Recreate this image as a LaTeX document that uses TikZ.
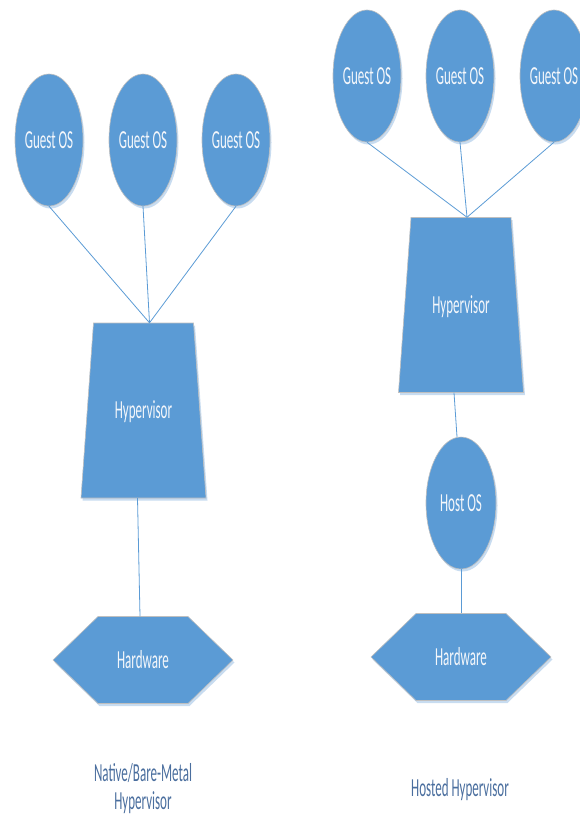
\documentclass[tikz,border=0pt]{standalone}
\usepackage{fontspec}
\newfontfamily\cf[FakeStretch=0.5]{Carlito}
\usetikzlibrary{shapes.geometric}
\definecolor{boxblue}{HTML}{5B9BD5}
\definecolor{edgegray}{HTML}{BFBFBF}
\definecolor{capblue}{HTML}{4A6E9E}
\definecolor{shadowblue}{HTML}{C8DCF0}
\definecolor{txtwhite}{HTML}{F4F7FB}
\newcommand\shadowed[1]{%
  \fill[shadowblue,shift={(1.5,2.5)}] #1;
  \filldraw[fill=boxblue,draw=edgegray,line width=0.6pt] #1;}
\newcommand\trapshape[2]{\shadowed{[shift={(#1,#2)}] (-50,-87.5) -- (50,-87.5) -- (62.5,87.5) -- (-62.5,87.5) -- cycle}}
\newcommand\hexshape[2]{\shadowed{[shift={(#1,#2)}] (-90,0) -- (-45,-43.5) -- (45,-43.5) -- (90,0) -- (45,43.5) -- (-45,43.5) -- cycle}}
\newcommand\ellshape[4]{\shadowed{(#1,#2) ellipse [x radius=#3pt, y radius=#4pt]}}
\begin{document}
\begin{tikzpicture}[x=1pt,y=-1pt,
  lbl/.style={text=txtwhite, font=\cf\fontsize{26}{28}\selectfont, inner sep=0pt},
  guest/.style={lbl, shape=ellipse, minimum width=68pt, minimum height=132pt},
  hyper/.style={lbl, shape=rectangle, minimum width=125pt, minimum height=175pt,
    text height=16.7pt, text depth=0pt},
  hw/.style={lbl, shape=rectangle, minimum width=180pt, minimum height=87pt},
  link/.style={draw=boxblue, line width=0.8pt},
  caption/.style={text=capblue, font=\cf\fontsize{26}{28}\selectfont, align=center, inner sep=0pt}]
\path[use as bounding box] (0,0) rectangle (579,816);

% shapes
\ellshape{49}{140}{34}{66}
\ellshape{143}{140}{34}{66}
\ellshape{236}{140}{34}{66}
\trapshape{143.5}{410.5}
\hexshape{143}{660}
\ellshape{367}{76}{34}{66}
\ellshape{460}{76}{34}{66}
\ellshape{554}{76}{34}{66}
\trapshape{461}{305}
\ellshape{461}{503}{35}{66}
\hexshape{461}{657}

% Native / bare-metal
\node[guest] (gl1) at (49,140) {Guest OS};
\node[guest] (gl2) at (143,140) {Guest OS};
\node[guest] (gl3) at (236,140) {Guest OS};
\node[hyper] (hl) at (143.5,410.5) {Hypervisor};
\node[hw] (wl) at (143,660) {Hardware};
\node[caption] (cl) at (143,789) {Native/Bare-Metal\\Hypervisor};

% Hosted
\node[guest] (gr1) at (367,76) {Guest OS};
\node[guest] (gr2) at (460,76) {Guest OS};
\node[guest] (gr3) at (554,76) {Guest OS};
\node[hyper] (hr) at (461,305) {Hypervisor};
\node[guest, minimum width=70pt] (host) at (461,503) {Host OS};
\node[hw] (wr) at (461,657) {Hardware};
\node[caption] (cr) at (460,790) {Hosted Hypervisor};

\coordinate (jl) at ([xshift=6pt]hl.north);
\coordinate (jr) at ([xshift=6pt]hr.north);
\draw[link] (gl1.south) -- (jl);
\draw[link] (gl2.south) -- (jl);
\draw[link] (gl3.south) -- (jl);
\draw[link] ([xshift=-6pt]hl.south) -- ([xshift=-3pt]wl.north);
\draw[link] (gr1.south) -- (jr);
\draw[link] (gr2.south) -- (jr);
\draw[link] (gr3.south) -- (jr);
\draw[link] ([xshift=-7pt]hr.south) -- ([xshift=-4pt]host.north);
\draw[link] (host.south) -- (wr.north);
\end{tikzpicture}
\end{document}
